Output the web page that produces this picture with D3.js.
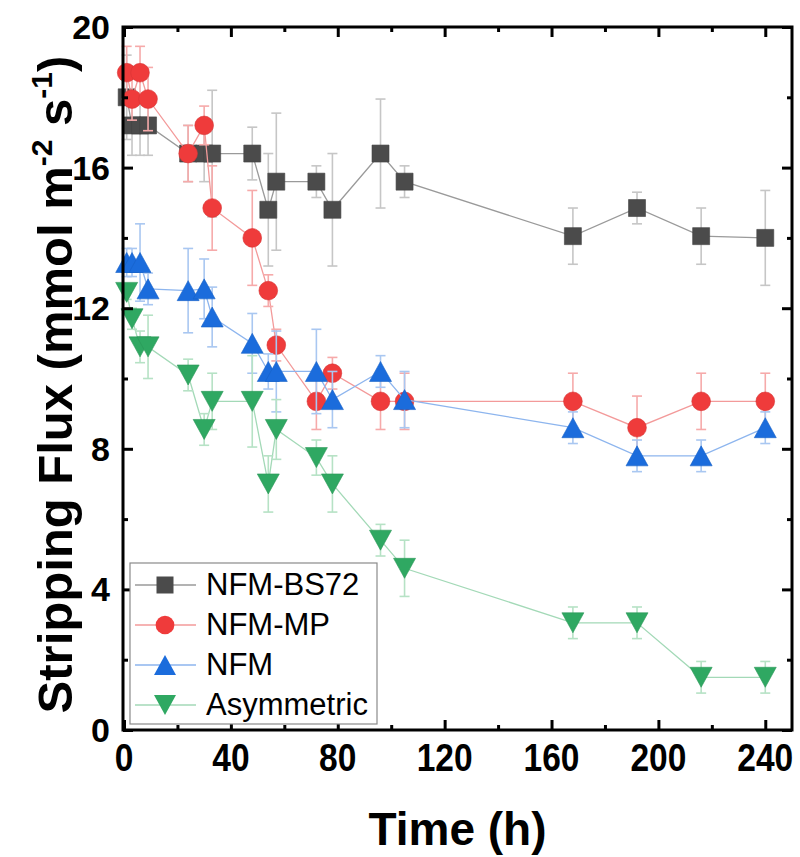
<!DOCTYPE html>
<html>
<head>
<meta charset="utf-8">
<script src="https://cdn.jsdelivr.net/npm/d3@7"></script>
<style>
  body { margin: 0; background: #fff; }
  svg text { font-family: "Liberation Sans", Arial, sans-serif; }
</style>
</head>
<body>
<script>
// sampling times (h)
const times = [1, 3, 6, 9, 24, 30, 33, 48, 54, 57, 72, 78, 96, 105, 168, 192, 216, 240];

// stripping flux values and error bars
const bs72 = [18.0, 17.2, 17.2, 17.2, 16.4, 16.4, 16.4, 16.4, 14.8, 15.6, 15.6, 14.8, 16.4, 15.6, 14.05, 14.85, 14.05, 14.0];
const bs72Err = [1.2, 0.85, 0.85, 0.85, 0.8, 0.8, 1.8, 0.75, 1.6, 1.95, 0.45, 1.6, 1.55, 0.45, 0.8, 0.45, 0.8, 1.35];
const mp = [18.7, 17.95, 18.7, 17.95, 16.4, 17.2, 14.85, 14.0, 12.5, 10.95, 9.35, 10.15, 9.35, 9.35, 9.35, 8.6, 9.35, 9.35];
const mpErr = [0.75, 0.6, 0.75, 0.9, 0.8, 0.55, 1.2, 1.35, 0.45, 0.45, 0.8, 0.45, 0.8, 0.8, 0.8, 0.9, 0.8, 0.8];
const nfm = [13.3, 13.3, 13.3, 12.55, 12.5, 12.55, 11.75, 11.0, 10.2, 10.2, 10.2, 9.4, 10.2, 9.4, 8.6, 7.8, 7.8, 8.6];
const nfmErr = [0.4, 0.4, 1.1, 0.45, 1.2, 0.85, 0.85, 0.85, 0.5, 1.15, 1.2, 0.8, 0.45, 0.8, 0.45, 0.45, 0.45, 0.45];
const asym = [12.45, 11.7, 10.9, 10.9, 10.1, 8.55, 9.35, 9.35, 7.0, 8.55, 7.75, 7.0, 5.4, 4.6, 3.05, 3.05, 1.5, 1.5];
const asymErr = [0.2, 0.3, 0.45, 0.9, 0.45, 0.45, 0.8, 1.3, 0.8, 0.85, 0.5, 0.8, 0.45, 0.8, 0.45, 0.45, 0.45, 0.45];

const seriesNames = ["NFM-BS72", "NFM-MP", "NFM", "Asymmetric"];
const xMajor = [0, 40, 80, 120, 160, 200, 240];
const xMinor = [20, 60, 100, 140, 180, 220];
const yMajor = [0, 4, 8, 12, 16, 20];
const yMinor = [2, 6, 10, 14, 18];

const width = 800, height = 857;
const mLeft = 123, mRight = 792, mTop = 27, mBottom = 730;

const svg = d3.select("body").append("svg")
    .attr("width", width)
    .attr("height", height);

const x = d3.scaleLinear().domain([0, 250]).range([mLeft + 1, mRight]);
const y = d3.scaleLinear().domain([0, 20]).range([mBottom, mTop]);

const styles = [
    { vals: bs72, err: bs72Err, fill: "#4b4b4b", line: "#9a9a9a", bar: "#c6c6c6", sym: "square" },
    { vals: mp, err: mpErr, fill: "#ef3b3b", line: "#f39a9a", bar: "#f6aaaa", sym: "circle" },
    { vals: nfm, err: nfmErr, fill: "#1b6cdc", line: "#8db5ee", bar: "#a9c7f1", sym: "up" },
    { vals: asym, err: asymErr, fill: "#2fa862", line: "#a3d9b7", bar: "#b6e2c5", sym: "down" }
];

function symbolPath(s) {
    const w = 11, h = 10;
    if (s.sym === "down") return `M${-w},${-h}L${w},${-h}L0,${h}Z`;
    if (s.sym === "up") return `M${-w},${h}L${w},${h}L0,${-h}Z`;
    if (s.sym === "circle") return d3.symbol().type(d3.symbolCircle).size(275)();
    return d3.symbol().type(d3.symbolSquare).size(289)();
}

const plot = svg.append("g");

styles.forEach((s, i) => {
    const pts = times.map((t, j) => ({ t: t, v: s.vals[j], e: s.err[j] }));
    const g = plot.append("g").attr("class", "series-" + i);

    // connecting line
    g.append("path")
        .datum(pts)
        .attr("fill", "none")
        .attr("stroke", s.line)
        .attr("stroke-width", 1.3)
        .attr("d", d3.line().x(d => x(d.t)).y(d => y(d.v)));

    // error bars
    const eb = g.selectAll(".eb").data(pts).enter().append("g").attr("class", "eb");
    eb.append("line")
        .attr("x1", d => x(d.t)).attr("x2", d => x(d.t))
        .attr("y1", d => y(d.v - d.e)).attr("y2", d => y(d.v + d.e))
        .attr("stroke", s.bar).attr("stroke-width", 1.6);
    eb.append("line")
        .attr("x1", d => x(d.t) - 5).attr("x2", d => x(d.t) + 5)
        .attr("y1", d => y(d.v + d.e)).attr("y2", d => y(d.v + d.e))
        .attr("stroke", s.bar).attr("stroke-width", 1.6);
    eb.append("line")
        .attr("x1", d => x(d.t) - 5).attr("x2", d => x(d.t) + 5)
        .attr("y1", d => y(d.v - d.e)).attr("y2", d => y(d.v - d.e))
        .attr("stroke", s.bar).attr("stroke-width", 1.6);

    // markers
    g.selectAll(".mk").data(pts).enter().append("path")
        .attr("class", "mk")
        .attr("transform", d => `translate(${x(d.t)},${y(d.v)})`)
        .attr("d", symbolPath(s))
        .attr("fill", s.fill)
        .attr("stroke", d3.color(s.fill).darker(0.3))
        .attr("stroke-width", 0.6);
});

// axes: inward ticks on all four sides
const axisG = svg.append("g");
function addAxis(axis, tf) {
    const a = axisG.append("g").attr("transform", tf).call(axis);
    a.select(".domain").remove();
    a.selectAll(".tick line").attr("stroke", "#000").attr("stroke-width", 3);
    return a;
}
addAxis(d3.axisBottom(x).tickValues(xMajor).tickSize(-10).tickFormat(""), `translate(0,${mBottom})`);
addAxis(d3.axisBottom(x).tickValues(xMinor).tickSize(-5).tickFormat(""), `translate(0,${mBottom})`);
addAxis(d3.axisTop(x).tickValues(xMajor).tickSize(-10).tickFormat(""), `translate(0,${mTop})`);
addAxis(d3.axisTop(x).tickValues(xMinor).tickSize(-5).tickFormat(""), `translate(0,${mTop})`);
addAxis(d3.axisLeft(y).tickValues(yMajor).tickSize(-10).tickFormat(""), `translate(${mLeft},0)`);
addAxis(d3.axisLeft(y).tickValues(yMinor).tickSize(-5).tickFormat(""), `translate(${mLeft},0)`);
addAxis(d3.axisRight(y).tickValues(yMajor).tickSize(-10).tickFormat(""), `translate(${mRight},0)`);
addAxis(d3.axisRight(y).tickValues(yMinor).tickSize(-5).tickFormat(""), `translate(${mRight},0)`);

// frame
axisG.append("rect")
    .attr("x", mLeft).attr("y", mTop)
    .attr("width", mRight - mLeft).attr("height", mBottom - mTop)
    .attr("fill", "none").attr("stroke", "#000").attr("stroke-width", 3);

// tick labels (x labels look slightly condensed in the original)
svg.append("g").selectAll("text").data(xMajor).enter().append("text")
    .attr("transform", d => `translate(${x(d)},771) scale(0.86,1)`)
    .attr("text-anchor", "middle")
    .attr("font-size", 39).attr("font-weight", "bold")
    .text(d => d);
svg.append("g").selectAll("text").data(yMajor).enter().append("text")
    .attr("x", 110).attr("y", d => y(d) + 12)
    .attr("text-anchor", "end")
    .attr("font-size", 34).attr("font-weight", "bold")
    .text(d => d);

// axis titles
svg.append("text")
    .attr("x", (mLeft + mRight) / 2).attr("y", 845)
    .attr("text-anchor", "middle")
    .attr("font-size", 46).attr("font-weight", "bold")
    .text("Time (h)");

const yt = svg.append("text")
    .attr("transform", `translate(72,${(mTop + mBottom) / 2 + 6}) rotate(-90)`)
    .attr("text-anchor", "middle")
    .attr("font-size", 49).attr("font-weight", "bold");
yt.append("tspan").text("Stripping Flux (mmol m");
yt.append("tspan").attr("font-size", 30).attr("dy", -20).text("-2");
yt.append("tspan").attr("dy", 20).text(" s");
yt.append("tspan").attr("font-size", 30).attr("dy", -20).text("-1");
yt.append("tspan").attr("dy", 20).text(")");

// legend
const lg = svg.append("g");
lg.append("rect")
    .attr("x", 130).attr("y", 563).attr("width", 247).attr("height", 161)
    .attr("fill", "#fff").attr("stroke", "#8a8a8a").attr("stroke-width", 1.2);
const legendY = d3.scalePoint().domain(seriesNames).range([585, 705]);
seriesNames.forEach((name, i) => {
    const s = styles[i];
    const cy = legendY(name);
    lg.append("line").attr("x1", 135).attr("x2", 196).attr("y1", cy).attr("y2", cy)
        .attr("stroke", s.line).attr("stroke-width", 1.3);
    lg.append("path").attr("transform", `translate(165,${cy})`)
        .attr("d", symbolPath(s)).attr("fill", s.fill);
    lg.append("text").attr("x", 206).attr("y", cy + 10)
        .attr("font-size", 31).text(name);
});
</script>
</body>
</html>
